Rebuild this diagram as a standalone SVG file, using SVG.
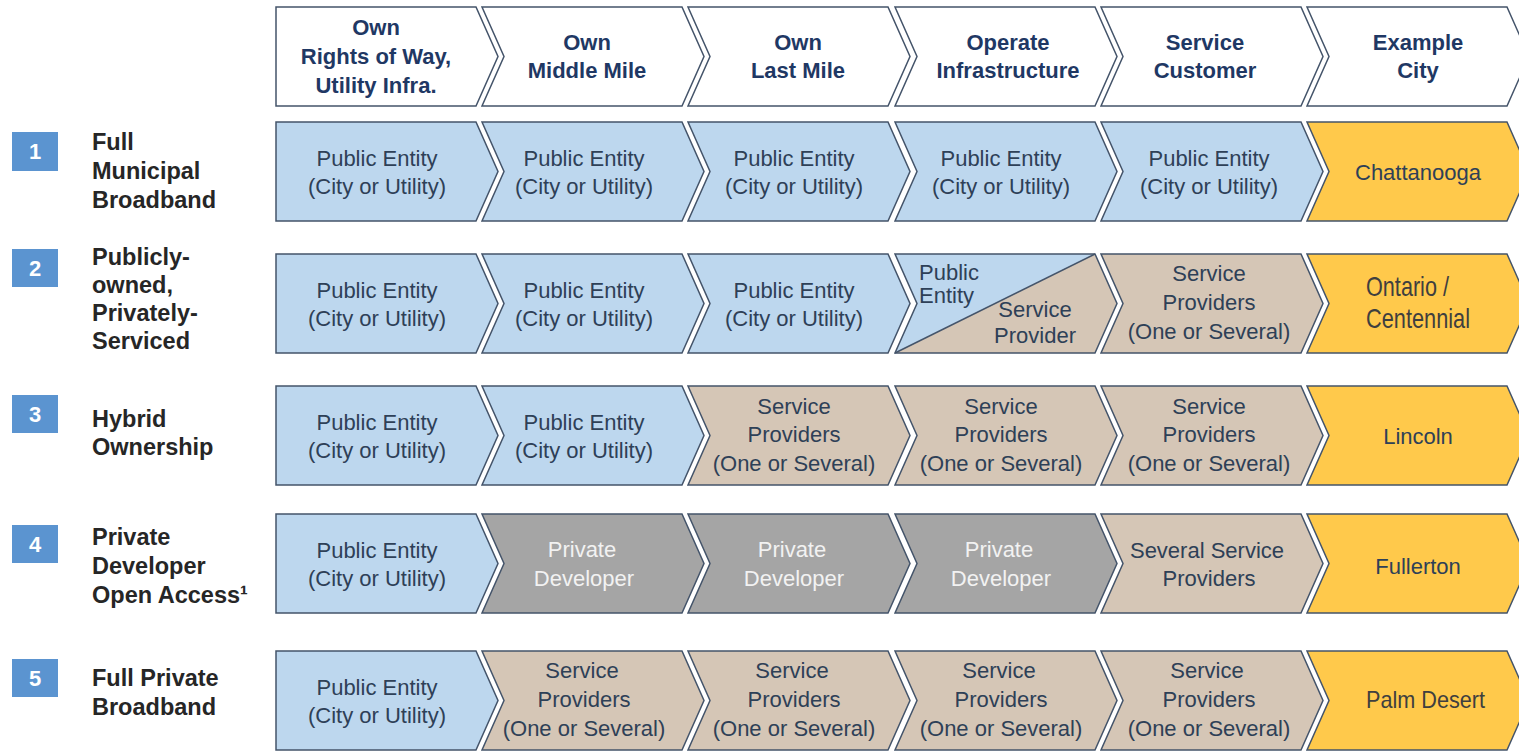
<svg xmlns="http://www.w3.org/2000/svg" xmlns:xlink="http://www.w3.org/1999/xlink" width="1519" height="751" viewBox="0 0 1519 751">
<style>
.sh{stroke:#44546A;stroke-width:1.5;stroke-linejoin:miter}
.hd{fill:#FFFFFF}
.bl{fill:#BDD7EE}
.tn{fill:#D5C6B6}
.gy{fill:#A5A5A5}
.yl{fill:#FFC94B}
text{font-family:"Liberation Sans",Arial,Helvetica,sans-serif}
.ht{font-size:22px;font-weight:bold;fill:#1F3864;text-anchor:middle}
.ct{font-size:22px;fill:#2E4057;text-anchor:middle}
.wt{font-size:22px;fill:#F2F2F2;text-anchor:middle}
.lb{font-size:23.5px;font-weight:bold;fill:#262626}
.nb{fill:#5B94D0}
.nt{font-size:22px;font-weight:bold;fill:#FFFFFF;text-anchor:middle}
.ci{fill:#3F3F3F}
</style>
<defs>
<path id="first" d="M0,0 H200 L222,49.5 L200,99 H0 Z"/>
<path id="chev" d="M0,0 H200 L222,49.5 L200,99 H0 L22,49.5 Z"/>
</defs>
<rect width="1519" height="751" fill="#FFFFFF"/>

<!-- Header -->
<g id="h0"><use xlink:href="#first" x="276" y="7" class="sh hd"/><text class="ht"><tspan x="376" y="35">Own</tspan><tspan x="376" y="64">Rights of Way,</tspan><tspan x="376" y="93">Utility Infra.</tspan></text></g>
<g id="h1"><use xlink:href="#chev" x="482" y="7" class="sh hd"/><text class="ht"><tspan x="587" y="50">Own</tspan><tspan x="587" y="78">Middle Mile</tspan></text></g>
<g id="h2"><use xlink:href="#chev" x="688" y="7" class="sh hd"/><text class="ht"><tspan x="798" y="50">Own</tspan><tspan x="798" y="78">Last Mile</tspan></text></g>
<g id="h3"><use xlink:href="#chev" x="895" y="7" class="sh hd"/><text class="ht"><tspan x="1008" y="50">Operate</tspan><tspan x="1008" y="78">Infrastructure</tspan></text></g>
<g id="h4"><use xlink:href="#chev" x="1101" y="7" class="sh hd"/><text class="ht"><tspan x="1205" y="50">Service</tspan><tspan x="1205" y="78">Customer</tspan></text></g>
<g id="h5"><use xlink:href="#chev" x="1307" y="7" class="sh hd"/><text class="ht"><tspan x="1418" y="50">Example</tspan><tspan x="1418" y="78">City</tspan></text></g>

<!-- Row labels -->
<g id="n1"><rect class="nb" x="12" y="132" width="46" height="39"/><text class="nt" x="35" y="159">1</text><text class="lb"><tspan x="92" y="150">Full</tspan><tspan x="92" y="179">Municipal</tspan><tspan x="92" y="208">Broadband</tspan></text></g>
<g id="n2"><rect class="nb" x="12" y="249" width="46" height="38"/><text class="nt" x="35" y="276">2</text><text class="lb"><tspan x="92" y="265">Publicly-</tspan><tspan x="92" y="293">owned,</tspan><tspan x="92" y="321">Privately-</tspan><tspan x="92" y="349">Serviced</tspan></text></g>
<g id="n3"><rect class="nb" x="12" y="395" width="46" height="38"/><text class="nt" x="35" y="422">3</text><text class="lb"><tspan x="92" y="427">Hybrid</tspan><tspan x="92" y="455">Ownership</tspan></text></g>
<g id="n4"><rect class="nb" x="12" y="525" width="46" height="38"/><text class="nt" x="35" y="552">4</text><text class="lb"><tspan x="92" y="545">Private</tspan><tspan x="92" y="574">Developer</tspan><tspan x="92" y="603">Open Access¹</tspan></text></g>
<g id="n5"><rect class="nb" x="12" y="659" width="46" height="38"/><text class="nt" x="35" y="686">5</text><text class="lb"><tspan x="92" y="686">Full Private</tspan><tspan x="92" y="715">Broadband</tspan></text></g>

<!-- Row 1 -->
<g id="r1c0"><use xlink:href="#first" x="276" y="122" class="sh bl"/><text class="ct"><tspan x="377" y="165.5">Public Entity</tspan><tspan x="377" y="193.5">(City or Utility)</tspan></text></g>
<g id="r1c1"><use xlink:href="#chev" x="482" y="122" class="sh bl"/><text class="ct"><tspan x="584" y="165.5">Public Entity</tspan><tspan x="584" y="193.5">(City or Utility)</tspan></text></g>
<g id="r1c2"><use xlink:href="#chev" x="688" y="122" class="sh bl"/><text class="ct"><tspan x="794" y="165.5">Public Entity</tspan><tspan x="794" y="193.5">(City or Utility)</tspan></text></g>
<g id="r1c3"><use xlink:href="#chev" x="895" y="122" class="sh bl"/><text class="ct"><tspan x="1001" y="165.5">Public Entity</tspan><tspan x="1001" y="193.5">(City or Utility)</tspan></text></g>
<g id="r1c4"><use xlink:href="#chev" x="1101" y="122" class="sh bl"/><text class="ct"><tspan x="1209" y="165.5">Public Entity</tspan><tspan x="1209" y="193.5">(City or Utility)</tspan></text></g>
<g id="r1c5"><use xlink:href="#chev" x="1307" y="122" class="sh yl"/><text class="ct" x="1418" y="180">Chattanooga</text></g>

<!-- Row 2 -->
<g id="r2c0"><use xlink:href="#first" x="276" y="254" class="sh bl"/><text class="ct"><tspan x="377" y="297.5">Public Entity</tspan><tspan x="377" y="325.5">(City or Utility)</tspan></text></g>
<g id="r2c1"><use xlink:href="#chev" x="482" y="254" class="sh bl"/><text class="ct"><tspan x="584" y="297.5">Public Entity</tspan><tspan x="584" y="325.5">(City or Utility)</tspan></text></g>
<g id="r2c2"><use xlink:href="#chev" x="688" y="254" class="sh bl"/><text class="ct"><tspan x="794" y="297.5">Public Entity</tspan><tspan x="794" y="325.5">(City or Utility)</tspan></text></g>
<g id="r2c3"><use xlink:href="#chev" x="895" y="254" class="tn"/><path class="bl" d="M895,254 H1095 L895,353 L917,303.5 Z"/><path d="M895,353 L1095,254" fill="none" stroke="#44546A" stroke-width="1.5"/><use xlink:href="#chev" x="895" y="254" class="sh" fill="none"/><text class="ct" style="text-anchor:start"><tspan x="919" y="280">Public</tspan><tspan x="919" y="303">Entity</tspan></text><text class="ct"><tspan x="1035" y="317">Service</tspan><tspan x="1035" y="343">Provider</tspan></text></g>
<g id="r2c4"><use xlink:href="#chev" x="1101" y="254" class="sh tn"/><text class="ct"><tspan x="1209" y="281">Service</tspan><tspan x="1209" y="309.5">Providers</tspan><tspan x="1209" y="338.5">(One or Several)</tspan></text></g>
<g id="r2c5"><use xlink:href="#chev" x="1307" y="254" class="sh yl"/><text class="ci" style="font-size:28px"><tspan x="1366" y="296" textLength="83" lengthAdjust="spacingAndGlyphs">Ontario /</tspan><tspan x="1366" y="328" textLength="104" lengthAdjust="spacingAndGlyphs">Centennial</tspan></text></g>

<!-- Row 3 -->
<g id="r3c0"><use xlink:href="#first" x="276" y="386" class="sh bl"/><text class="ct"><tspan x="377" y="430">Public Entity</tspan><tspan x="377" y="458">(City or Utility)</tspan></text></g>
<g id="r3c1"><use xlink:href="#chev" x="482" y="386" class="sh bl"/><text class="ct"><tspan x="584" y="430">Public Entity</tspan><tspan x="584" y="458">(City or Utility)</tspan></text></g>
<g id="r3c2"><use xlink:href="#chev" x="688" y="386" class="sh tn"/><text class="ct"><tspan x="794" y="413.5">Service</tspan><tspan x="794" y="442">Providers</tspan><tspan x="794" y="471">(One or Several)</tspan></text></g>
<g id="r3c3"><use xlink:href="#chev" x="895" y="386" class="sh tn"/><text class="ct"><tspan x="1001" y="413.5">Service</tspan><tspan x="1001" y="442">Providers</tspan><tspan x="1001" y="471">(One or Several)</tspan></text></g>
<g id="r3c4"><use xlink:href="#chev" x="1101" y="386" class="sh tn"/><text class="ct"><tspan x="1209" y="413.5">Service</tspan><tspan x="1209" y="442">Providers</tspan><tspan x="1209" y="471">(One or Several)</tspan></text></g>
<g id="r3c5"><use xlink:href="#chev" x="1307" y="386" class="sh yl"/><text class="ct" x="1418" y="444">Lincoln</text></g>

<!-- Row 4 -->
<g id="r4c0"><use xlink:href="#first" x="276" y="514" class="sh bl"/><text class="ct"><tspan x="377" y="557.5">Public Entity</tspan><tspan x="377" y="585.5">(City or Utility)</tspan></text></g>
<g id="r4c1"><use xlink:href="#chev" x="482" y="514" class="sh gy"/><text class="wt"><tspan x="582" y="556.5">Private</tspan><tspan x="584" y="585.5">Developer</tspan></text></g>
<g id="r4c2"><use xlink:href="#chev" x="688" y="514" class="sh gy"/><text class="wt"><tspan x="792" y="556.5">Private</tspan><tspan x="794" y="585.5">Developer</tspan></text></g>
<g id="r4c3"><use xlink:href="#chev" x="895" y="514" class="sh gy"/><text class="wt"><tspan x="999" y="556.5">Private</tspan><tspan x="1001" y="585.5">Developer</tspan></text></g>
<g id="r4c4"><use xlink:href="#chev" x="1101" y="514" class="sh tn"/><text class="ct"><tspan x="1207" y="557.5">Several Service</tspan><tspan x="1209" y="585.5">Providers</tspan></text></g>
<g id="r4c5"><use xlink:href="#chev" x="1307" y="514" class="sh yl"/><text class="ct" x="1418" y="574">Fullerton</text></g>

<!-- Row 5 -->
<g id="r5c0"><use xlink:href="#first" x="276" y="651" class="sh bl"/><text class="ct"><tspan x="377" y="694.5">Public Entity</tspan><tspan x="377" y="722.5">(City or Utility)</tspan></text></g>
<g id="r5c1"><use xlink:href="#chev" x="482" y="651" class="sh tn"/><text class="ct"><tspan x="582" y="678">Service</tspan><tspan x="584" y="706.5">Providers</tspan><tspan x="584" y="735.5">(One or Several)</tspan></text></g>
<g id="r5c2"><use xlink:href="#chev" x="688" y="651" class="sh tn"/><text class="ct"><tspan x="792" y="678">Service</tspan><tspan x="794" y="706.5">Providers</tspan><tspan x="794" y="735.5">(One or Several)</tspan></text></g>
<g id="r5c3"><use xlink:href="#chev" x="895" y="651" class="sh tn"/><text class="ct"><tspan x="999" y="678">Service</tspan><tspan x="1001" y="706.5">Providers</tspan><tspan x="1001" y="735.5">(One or Several)</tspan></text></g>
<g id="r5c4"><use xlink:href="#chev" x="1101" y="651" class="sh tn"/><text class="ct"><tspan x="1207" y="678">Service</tspan><tspan x="1209" y="706.5">Providers</tspan><tspan x="1209" y="735.5">(One or Several)</tspan></text></g>
<g id="r5c5"><use xlink:href="#chev" x="1307" y="651" class="sh yl"/><text class="ci" style="font-size:24px" x="1366" y="708" textLength="119" lengthAdjust="spacingAndGlyphs">Palm Desert</text></g>

<g id="connectors"></g>
</svg>
